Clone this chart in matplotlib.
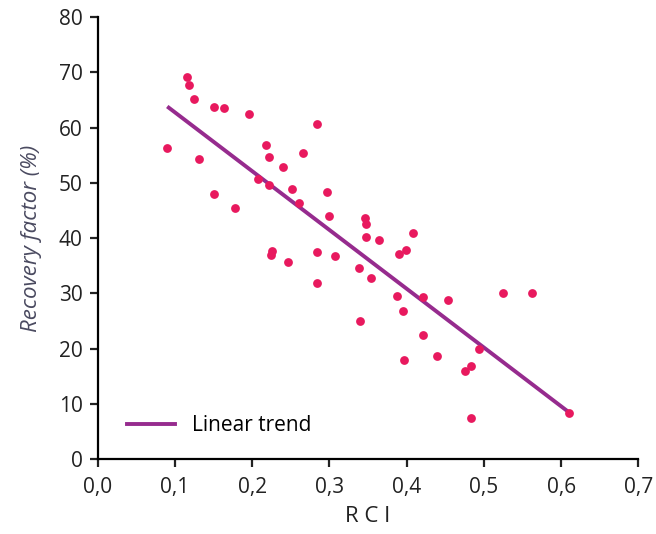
import matplotlib.pyplot as plt

# 点データ
rci = [0.090, 0.115, 0.118, 0.125, 0.131, 0.150, 0.151, 0.163, 0.178, 0.196,
       0.208, 0.218, 0.222, 0.222, 0.224, 0.226, 0.240, 0.247, 0.252, 0.260,
       0.266, 0.284, 0.284, 0.284, 0.297, 0.299, 0.307, 0.338, 0.340, 0.346,
       0.348, 0.348, 0.354, 0.364, 0.388, 0.390, 0.395, 0.397, 0.399, 0.408,
       0.421, 0.421, 0.439, 0.453, 0.476, 0.483, 0.483, 0.494, 0.525, 0.562,
       0.610]
recovery = [56.3, 69.2, 67.7, 65.2, 54.3, 63.8, 48.0, 63.5, 45.5, 62.4,
            50.7, 56.8, 54.7, 49.6, 37.0, 37.6, 52.9, 35.6, 48.8, 46.3,
            55.4, 60.6, 37.4, 31.8, 48.4, 44.0, 36.8, 34.5, 25.0, 43.6,
            42.5, 40.2, 32.7, 39.6, 29.5, 37.1, 26.8, 18.0, 37.8, 41.0,
            29.3, 22.5, 18.6, 28.7, 15.9, 16.8, 7.5, 19.9, 30.1, 30.1,
            8.3]

# 線形トレンドの端点
trend_x = [0.092, 0.608]
trend_y = [63.6, 8.7]

xticks = [0.0, 0.1, 0.2, 0.3, 0.4, 0.5, 0.6, 0.7]
xtick_labels = ["0,0", "0,1", "0,2", "0,3", "0,4", "0,5", "0,6", "0,7"]
yticks = [0, 10, 20, 30, 40, 50, 60, 70, 80]

plt.rcParams["font.family"] = ["Open Sans", "DejaVu Sans"]

fig = plt.figure(figsize=(6.56, 5.34), dpi=100)
ax = fig.add_axes([0.149, 0.1404, 0.824, 0.8276])

ax.scatter(rci, recovery, s=40, color="#e8195e", zorder=3, linewidths=0)
ax.plot(trend_x, trend_y, color="#962b8e", lw=2.8, label="Linear trend", zorder=2)

ax.set_xlim(0, 0.7)
ax.set_ylim(0, 80)
ax.set_xticks(xticks)
ax.set_xticklabels(xtick_labels)
ax.set_yticks(yticks)

for s in ["top", "right"]:
    ax.spines[s].set_visible(False)
for s in ["left", "bottom"]:
    ax.spines[s].set_linewidth(1.6)
ax.tick_params(direction="out", length=6, width=1.6, labelsize=15, colors="#222222")
ax.tick_params(axis="x", pad=7)
ax.tick_params(axis="y", pad=5)

ax.set_xlabel("R C I", fontsize=16, color="#222222", labelpad=6)
ax.set_ylabel("Recovery factor (%)", fontsize=16, style="italic", color="#4a4a60", labelpad=12)

ax.legend(loc="lower left", bbox_to_anchor=(0.02, 0.01), frameon=False, fontsize=15,
          handlelength=2.3, handletextpad=0.8)

fig.savefig("out.png", dpi=100)
